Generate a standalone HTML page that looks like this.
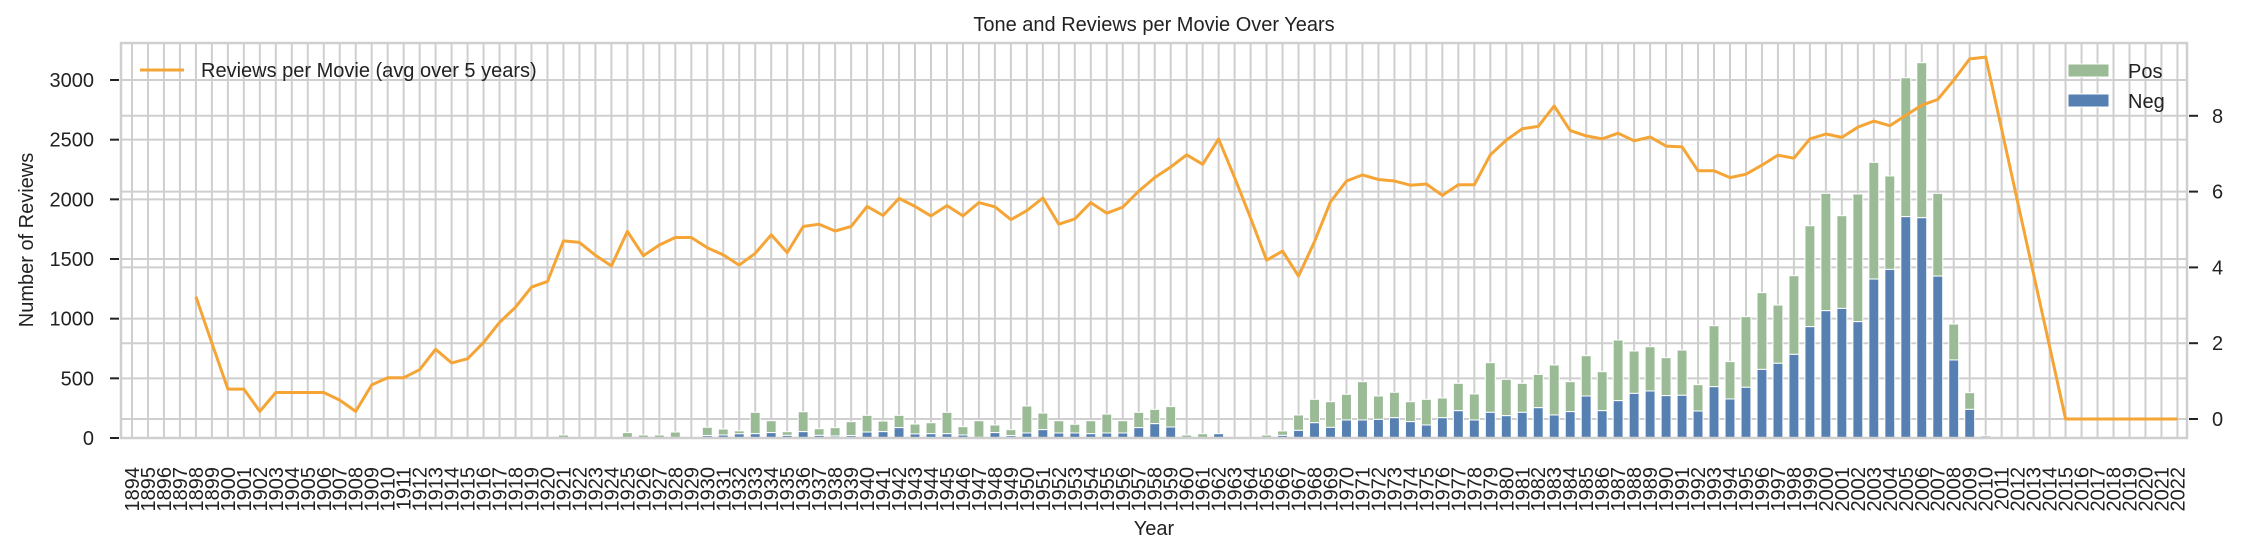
<!DOCTYPE html>
<html><head><meta charset="utf-8"><style>
html,body{margin:0;padding:0;background:#fff;}
svg{display:block;font-family:"Liberation Sans",Arial,sans-serif;}
</style></head><body>
<svg id="chart" width="2244" height="550" viewBox="0 0 2244 550" xmlns="http://www.w3.org/2000/svg">
<rect x="0" y="0" width="2244" height="550" fill="#fff"/>
<g id="grid"></g>
<g id="bars"></g>
<g id="line"></g>
<g id="axes"></g>
<text x="1154" y="31" font-size="20" text-anchor="middle" fill="#222">Tone and Reviews per Movie Over Years</text>
<text x="1154" y="535" font-size="20" text-anchor="middle" fill="#222">Year</text>
<text x="0" y="0" font-size="20" text-anchor="middle" fill="#222" transform="translate(33,240) rotate(-90)">Number of Reviews</text>
<g>
<line x1="140" y1="70" x2="184" y2="70" stroke="#f5a536" stroke-width="3"/>
<text x="201" y="77" font-size="20" fill="#222">Reviews per Movie (avg over 5 years)</text>
</g>
<g>
<rect x="2068" y="64" width="41" height="13" fill="#9abb95" stroke="#fff" stroke-width="1"/>
<text x="2128" y="78" font-size="20" fill="#222">Pos</text>
<rect x="2068" y="94" width="41" height="13" fill="#5580b1" stroke="#fff" stroke-width="1"/>
<text x="2128" y="108" font-size="20" fill="#222">Neg</text>
</g>
</svg>
<script>
const startYear = 1894;
const endYear = 2022;
const negValues = {27:0,31:0,32:0,33:0,34:0,36:20,37:25,38:35,39:36,40:45,41:22,42:53,43:22,44:17,45:20,46:50,47:53,48:87,49:34,50:36,51:36,52:25,53:5,54:45,55:20,56:42,57:70,58:42,59:42,60:36,61:42,62:42,63:87,64:120,65:92,66:0,67:0,68:36,71:0,72:22,73:64,74:128,75:89,76:151,77:151,78:156,79:170,80:137,81:109,82:170,83:229,84:151,85:215,86:187,87:215,88:254,89:193,90:221,91:352,92:229,93:313,94:374,95:394,96:355,97:358,98:226,99:430,100:327,101:425,102:575,103:626,104:701,105:933,106:1067,107:1086,108:975,109:1332,110:1413,111:1855,112:1846,113:1357,114:654,115:240,116:17};
const totalValues = {27:25,31:45,32:25,33:25,34:50,36:90,37:75,38:60,39:215,40:145,41:53,42:220,43:78,44:87,45:137,46:190,47:142,48:190,49:117,50:128,51:215,52:95,53:145,54:109,55:70,56:268,57:209,58:145,59:115,60:145,61:200,62:145,63:215,64:240,65:263,66:25,67:36,68:36,71:25,72:59,73:193,74:324,75:304,76:366,77:472,78:352,79:383,80:304,81:324,82:335,83:458,84:369,85:631,86:492,87:458,88:533,89:612,90:472,91:690,92:556,93:821,94:729,95:765,96:673,97:737,98:447,99:941,100:640,101:1017,102:1218,103:1114,104:1360,105:1779,106:2050,107:1863,108:2045,109:2310,110:2196,111:3019,112:3145,113:2050,114:955,115:380,116:17};
const lineStart = 4;
const reviewsPerMovie = [3.23,2.0,0.79,0.79,0.2,0.7,0.7,0.7,0.7,0.5,0.2,0.9,1.09,1.09,1.3,1.84,1.48,1.59,2.02,2.55,2.95,3.48,3.63,4.7,4.66,4.32,4.04,4.95,4.31,4.59,4.79,4.79,4.52,4.33,4.06,4.37,4.86,4.39,5.08,5.14,4.96,5.08,5.61,5.37,5.82,5.61,5.36,5.63,5.36,5.71,5.6,5.26,5.5,5.83,5.14,5.28,5.71,5.43,5.59,6.01,6.37,6.65,6.97,6.72,7.39,6.37,5.3,4.19,4.43,3.77,4.68,5.73,6.28,6.44,6.32,6.28,6.17,6.2,5.9,6.18,6.18,6.97,7.36,7.66,7.72,8.26,7.61,7.47,7.39,7.54,7.34,7.44,7.2,7.18,6.55,6.55,6.37,6.46,6.7,6.96,6.88,7.39,7.52,7.43,7.7,7.86,7.74,8.01,8.28,8.43,8.94,9.5,9.55,7.64,5.73,3.82,1.91,0,0,0,0,0,0,0,0];
const leftTicks = [0,500,1000,1500,2000,2500,3000];
const rightTicks = [0,2,4,6,8];

const NS='http://www.w3.org/2000/svg';
const L=121,R=2187,T=43,B=438;
const x0=132, step=15.98;
const xPos = i => x0 + i*step;
const yLeft = v => 438 - v*0.11933;
const yRight = v => 419 - v*37.9;
function mk(tag, attrs, parent){const e=document.createElementNS(NS,tag);for(const k in attrs)e.setAttribute(k,attrs[k]);parent.appendChild(e);return e;}
const grid=document.getElementById('grid'), bars=document.getElementById('bars'), lineG=document.getElementById('line'), axes=document.getElementById('axes');
const nYears = endYear-startYear+1;
for(let i=0;i<nYears;i++){
  const gl=mk('line',{x1:xPos(i),x2:xPos(i),y1:T,y2:B,stroke:'#cfcfcf','stroke-width':2},grid);
  
  
  const t=mk('text',{x:0,y:0,'font-size':20,fill:'#222','text-anchor':'end',transform:`translate(${xPos(i)+7},467) rotate(-90)`},axes);
  t.textContent=String(startYear+i);
  
  
}
leftTicks.forEach(v=>{
  const y=yLeft(v);
  const g=mk('line',{x1:L,x2:R,y1:y,y2:y,stroke:'#cfcfcf','stroke-width':2},grid);
  
  
  mk('line',{x1:110,x2:119,y1:y,y2:y,stroke:'#222','stroke-width':2},axes);
  const t=mk('text',{x:94,y:y+7,'font-size':20,fill:'#222','text-anchor':'end'},axes);
  t.textContent=String(v);
  
  
});
rightTicks.forEach(v=>{
  const y=yRight(v);
  const g=mk('line',{x1:L,x2:R,y1:y,y2:y,stroke:'#cfcfcf','stroke-width':2},grid);
  
  
  mk('line',{x1:2189,x2:2198,y1:y,y2:y,stroke:'#222','stroke-width':2},axes);
  const t=mk('text',{x:2212,y:y+7,'font-size':20,fill:'#222'},axes);
  t.textContent=String(v);
  
  
});
const frame=mk('rect',{x:L,y:T,width:R-L,height:B-T,fill:'none',stroke:'#cfcfcf','stroke-width':2.5},axes);


const bw=step*0.62;
for(const k in totalValues){
  const i=+k, neg=negValues[k]||0, tot=totalValues[k];
  const xl=xPos(i)-bw/2;
  if(tot>neg){
    const p=mk('rect',{x:xl,y:yLeft(tot),width:bw,height:yLeft(neg)-yLeft(tot),fill:'#9abb95',stroke:'#fff','stroke-width':1},bars);
    
    
  }
  if(neg>0){
    const n=mk('rect',{x:xl,y:yLeft(neg),width:bw,height:yLeft(0)-yLeft(neg),fill:'#5580b1',stroke:'#fff','stroke-width':1},bars);
    
    
  }
}
const pts=reviewsPerMovie.map((v,j)=>xPos(lineStart+j).toFixed(1)+','+yRight(v).toFixed(1)).join(' ');
const pl=mk('polyline',{points:pts,fill:'none',stroke:'#f5a536','stroke-width':3,'stroke-linejoin':'round'},lineG);


</script>
</body></html>
